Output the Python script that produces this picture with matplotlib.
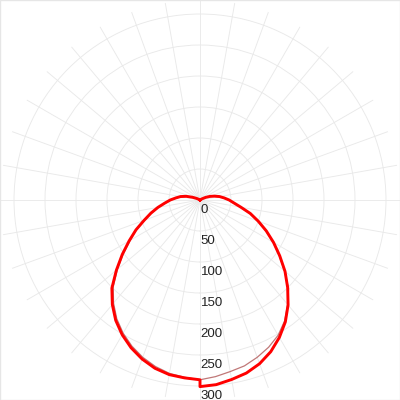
"""
Polar light distribution curve (LDC) - two C planes, mirrored halves.
"""

import numpy as np
import matplotlib
matplotlib.use('Agg')
import matplotlib.pyplot as plt
from matplotlib.transforms import offset_copy
from matplotlib.patches import Rectangle

# gamma angles, 0 = straight down (nadir)
gamma = list(range(0, 185, 5))

# C0 / C180 plane (thick red curve), right half = C0, left half = C180
c0 = [301, 299, 294, 289, 281, 270, 256, 240, 221, 200, 179, 157, 137, 118,
      100, 84, 67, 55, 47, 39, 32, 24, 17, 10, 4, 1,
      0, 0, 0, 0, 0, 0, 0, 0, 0, 0, 0]
c180 = [290, 288, 286, 281, 273, 263, 251, 237, 220, 201, 176, 153, 132, 114,
        96, 82, 69, 57, 48, 39, 32, 23, 13, 6, 2, 0,
        0, 0, 0, 0, 0, 0, 0, 0, 0, 0, 0]

# C90 / C270 plane (thin line)
c90 = [290, 286, 281, 277, 270, 262, 252, 238, 220, 202, 178, 156, 136, 117,
       99, 83, 66, 54, 46, 38, 31, 23, 16, 9, 3, 0,
       0, 0, 0, 0, 0, 0, 0, 0, 0, 0, 0]
c270 = [290, 287, 284, 278, 270, 260, 248, 234, 217, 198, 174, 151, 130, 113,
        95, 81, 68, 56, 47, 38, 31, 22, 12, 5, 1, 0,
        0, 0, 0, 0, 0, 0, 0, 0, 0, 0, 0]

# radial ticks / labels
rticks = [0, 50, 100, 150, 200, 250, 300]
rmax = 322.6

plt.rcParams['font.family'] = ['Liberation Sans', 'DejaVu Sans']

fig = plt.figure(figsize=(4, 4), dpi=100)
ax = fig.add_axes([0, 0, 1, 1], projection='polar')
ax.set_theta_zero_location('S')
ax.set_theta_direction(1)

# build closed curves: left half (C180 / C270) from 180 -> 0, then right half 0 -> 180
g = np.radians(gamma)
theta = np.concatenate([-g[::-1], g])
r_main = np.concatenate([np.array(c180)[::-1], c0])
r_side = np.concatenate([np.array(c270)[::-1], c90])

ax.plot(theta, r_side, color='#c07878', lw=0.9, zorder=3)
ax.plot(theta, r_main, color='#ff0000', lw=2.1, zorder=4)

ax.set_ylim(0, rmax)
ax.set_thetagrids(range(0, 360, 10), labels=[])
ax.set_rgrids(rticks[1:], labels=[])
ax.grid(True, color='#e9e9e9', lw=0.65)
ax.spines['polar'].set_visible(False)
ax.set_facecolor('white')

# radial labels below each circle, going down
trans = offset_copy(ax.transData, fig=fig, x=0.5, y=-10, units='dots')
for rv in rticks:
    ax.text(0, rv, str(rv), transform=trans, ha='left', va='center',
            fontsize=9.5, color='#222222', zorder=5, clip_on=False)

# thin frame round the image
fig.patches.append(Rectangle((0, 0), 1, 1, transform=fig.transFigure,
                             fill=False, edgecolor='#e6e6e6', lw=1))

fig.savefig('out.png', dpi=100, facecolor='white')
plt.close(fig)
